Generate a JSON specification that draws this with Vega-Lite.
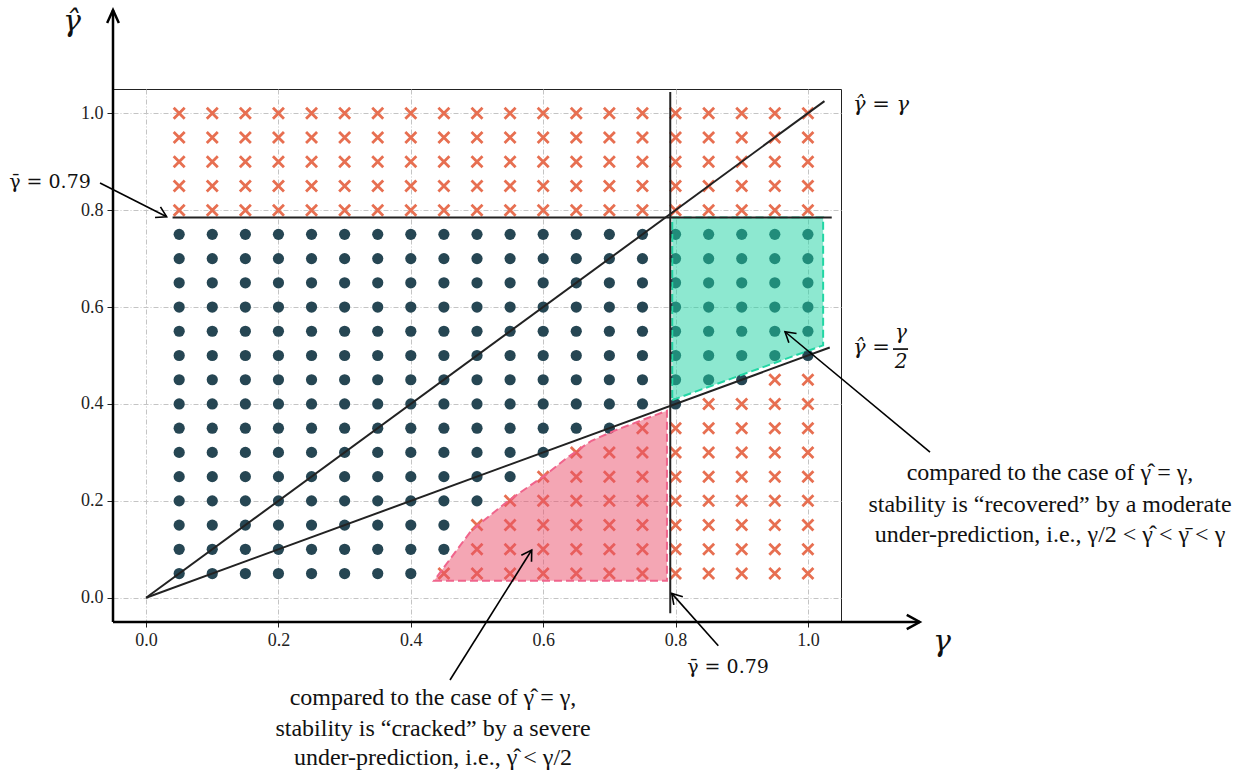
{
"$schema":"https://vega.github.io/schema/vega-lite/v6.json",
"width":728,"height":533,
"autosize":{"type":"none"},
"padding":{"left":113,"top":89,"right":415,"bottom":158},
"background":"white",
"config":{"view":{"stroke":"#222","strokeWidth":1},
"axis":{"labelFont":"Liberation Serif","labelFontSize":18,"labelColor":"#222","tickColor":"#222","tickSize":5,"tickWidth":1,"gridColor":"#c4c4c4","gridDash":[5,2,1,2],"gridWidth":1,"domain":false,"title":null}},
"datasets":{
"pts":[
{"x":0.05,"y":0.05,"t":"c"},{"x":0.05,"y":0.1,"t":"c"},{"x":0.05,"y":0.15,"t":"c"},{"x":0.05,"y":0.2,"t":"c"},{"x":0.05,"y":0.25,"t":"c"},{"x":0.05,"y":0.3,"t":"c"},{"x":0.05,"y":0.35,"t":"c"},{"x":0.05,"y":0.4,"t":"c"},{"x":0.05,"y":0.45,"t":"c"},{"x":0.05,"y":0.5,"t":"c"},{"x":0.05,"y":0.55,"t":"c"},{"x":0.05,"y":0.6,"t":"c"},{"x":0.05,"y":0.65,"t":"c"},{"x":0.05,"y":0.7,"t":"c"},{"x":0.05,"y":0.75,"t":"c"},{"x":0.05,"y":0.8,"t":"k"},{"x":0.05,"y":0.85,"t":"k"},{"x":0.05,"y":0.9,"t":"k"},{"x":0.05,"y":0.95,"t":"k"},{"x":0.05,"y":1,"t":"k"},
{"x":0.1,"y":0.05,"t":"c"},{"x":0.1,"y":0.1,"t":"c"},{"x":0.1,"y":0.15,"t":"c"},{"x":0.1,"y":0.2,"t":"c"},{"x":0.1,"y":0.25,"t":"c"},{"x":0.1,"y":0.3,"t":"c"},{"x":0.1,"y":0.35,"t":"c"},{"x":0.1,"y":0.4,"t":"c"},{"x":0.1,"y":0.45,"t":"c"},{"x":0.1,"y":0.5,"t":"c"},{"x":0.1,"y":0.55,"t":"c"},{"x":0.1,"y":0.6,"t":"c"},{"x":0.1,"y":0.65,"t":"c"},{"x":0.1,"y":0.7,"t":"c"},{"x":0.1,"y":0.75,"t":"c"},{"x":0.1,"y":0.8,"t":"k"},{"x":0.1,"y":0.85,"t":"k"},{"x":0.1,"y":0.9,"t":"k"},{"x":0.1,"y":0.95,"t":"k"},{"x":0.1,"y":1,"t":"k"},
{"x":0.15,"y":0.05,"t":"c"},{"x":0.15,"y":0.1,"t":"c"},{"x":0.15,"y":0.15,"t":"c"},{"x":0.15,"y":0.2,"t":"c"},{"x":0.15,"y":0.25,"t":"c"},{"x":0.15,"y":0.3,"t":"c"},{"x":0.15,"y":0.35,"t":"c"},{"x":0.15,"y":0.4,"t":"c"},{"x":0.15,"y":0.45,"t":"c"},{"x":0.15,"y":0.5,"t":"c"},{"x":0.15,"y":0.55,"t":"c"},{"x":0.15,"y":0.6,"t":"c"},{"x":0.15,"y":0.65,"t":"c"},{"x":0.15,"y":0.7,"t":"c"},{"x":0.15,"y":0.75,"t":"c"},{"x":0.15,"y":0.8,"t":"k"},{"x":0.15,"y":0.85,"t":"k"},{"x":0.15,"y":0.9,"t":"k"},{"x":0.15,"y":0.95,"t":"k"},{"x":0.15,"y":1,"t":"k"},
{"x":0.2,"y":0.05,"t":"c"},{"x":0.2,"y":0.1,"t":"c"},{"x":0.2,"y":0.15,"t":"c"},{"x":0.2,"y":0.2,"t":"c"},{"x":0.2,"y":0.25,"t":"c"},{"x":0.2,"y":0.3,"t":"c"},{"x":0.2,"y":0.35,"t":"c"},{"x":0.2,"y":0.4,"t":"c"},{"x":0.2,"y":0.45,"t":"c"},{"x":0.2,"y":0.5,"t":"c"},{"x":0.2,"y":0.55,"t":"c"},{"x":0.2,"y":0.6,"t":"c"},{"x":0.2,"y":0.65,"t":"c"},{"x":0.2,"y":0.7,"t":"c"},{"x":0.2,"y":0.75,"t":"c"},{"x":0.2,"y":0.8,"t":"k"},{"x":0.2,"y":0.85,"t":"k"},{"x":0.2,"y":0.9,"t":"k"},{"x":0.2,"y":0.95,"t":"k"},{"x":0.2,"y":1,"t":"k"},
{"x":0.25,"y":0.05,"t":"c"},{"x":0.25,"y":0.1,"t":"c"},{"x":0.25,"y":0.15,"t":"c"},{"x":0.25,"y":0.2,"t":"c"},{"x":0.25,"y":0.25,"t":"c"},{"x":0.25,"y":0.3,"t":"c"},{"x":0.25,"y":0.35,"t":"c"},{"x":0.25,"y":0.4,"t":"c"},{"x":0.25,"y":0.45,"t":"c"},{"x":0.25,"y":0.5,"t":"c"},{"x":0.25,"y":0.55,"t":"c"},{"x":0.25,"y":0.6,"t":"c"},{"x":0.25,"y":0.65,"t":"c"},{"x":0.25,"y":0.7,"t":"c"},{"x":0.25,"y":0.75,"t":"c"},{"x":0.25,"y":0.8,"t":"k"},{"x":0.25,"y":0.85,"t":"k"},{"x":0.25,"y":0.9,"t":"k"},{"x":0.25,"y":0.95,"t":"k"},{"x":0.25,"y":1,"t":"k"},
{"x":0.3,"y":0.05,"t":"c"},{"x":0.3,"y":0.1,"t":"c"},{"x":0.3,"y":0.15,"t":"c"},{"x":0.3,"y":0.2,"t":"c"},{"x":0.3,"y":0.25,"t":"c"},{"x":0.3,"y":0.3,"t":"c"},{"x":0.3,"y":0.35,"t":"c"},{"x":0.3,"y":0.4,"t":"c"},{"x":0.3,"y":0.45,"t":"c"},{"x":0.3,"y":0.5,"t":"c"},{"x":0.3,"y":0.55,"t":"c"},{"x":0.3,"y":0.6,"t":"c"},{"x":0.3,"y":0.65,"t":"c"},{"x":0.3,"y":0.7,"t":"c"},{"x":0.3,"y":0.75,"t":"c"},{"x":0.3,"y":0.8,"t":"k"},{"x":0.3,"y":0.85,"t":"k"},{"x":0.3,"y":0.9,"t":"k"},{"x":0.3,"y":0.95,"t":"k"},{"x":0.3,"y":1,"t":"k"},
{"x":0.35,"y":0.05,"t":"c"},{"x":0.35,"y":0.1,"t":"c"},{"x":0.35,"y":0.15,"t":"c"},{"x":0.35,"y":0.2,"t":"c"},{"x":0.35,"y":0.25,"t":"c"},{"x":0.35,"y":0.3,"t":"c"},{"x":0.35,"y":0.35,"t":"c"},{"x":0.35,"y":0.4,"t":"c"},{"x":0.35,"y":0.45,"t":"c"},{"x":0.35,"y":0.5,"t":"c"},{"x":0.35,"y":0.55,"t":"c"},{"x":0.35,"y":0.6,"t":"c"},{"x":0.35,"y":0.65,"t":"c"},{"x":0.35,"y":0.7,"t":"c"},{"x":0.35,"y":0.75,"t":"c"},{"x":0.35,"y":0.8,"t":"k"},{"x":0.35,"y":0.85,"t":"k"},{"x":0.35,"y":0.9,"t":"k"},{"x":0.35,"y":0.95,"t":"k"},{"x":0.35,"y":1,"t":"k"},
{"x":0.4,"y":0.05,"t":"c"},{"x":0.4,"y":0.1,"t":"c"},{"x":0.4,"y":0.15,"t":"c"},{"x":0.4,"y":0.2,"t":"c"},{"x":0.4,"y":0.25,"t":"c"},{"x":0.4,"y":0.3,"t":"c"},{"x":0.4,"y":0.35,"t":"c"},{"x":0.4,"y":0.4,"t":"c"},{"x":0.4,"y":0.45,"t":"c"},{"x":0.4,"y":0.5,"t":"c"},{"x":0.4,"y":0.55,"t":"c"},{"x":0.4,"y":0.6,"t":"c"},{"x":0.4,"y":0.65,"t":"c"},{"x":0.4,"y":0.7,"t":"c"},{"x":0.4,"y":0.75,"t":"c"},{"x":0.4,"y":0.8,"t":"k"},{"x":0.4,"y":0.85,"t":"k"},{"x":0.4,"y":0.9,"t":"k"},{"x":0.4,"y":0.95,"t":"k"},{"x":0.4,"y":1,"t":"k"},
{"x":0.45,"y":0.05,"t":"k"},{"x":0.45,"y":0.1,"t":"c"},{"x":0.45,"y":0.15,"t":"c"},{"x":0.45,"y":0.2,"t":"c"},{"x":0.45,"y":0.25,"t":"c"},{"x":0.45,"y":0.3,"t":"c"},{"x":0.45,"y":0.35,"t":"c"},{"x":0.45,"y":0.4,"t":"c"},{"x":0.45,"y":0.45,"t":"c"},{"x":0.45,"y":0.5,"t":"c"},{"x":0.45,"y":0.55,"t":"c"},{"x":0.45,"y":0.6,"t":"c"},{"x":0.45,"y":0.65,"t":"c"},{"x":0.45,"y":0.7,"t":"c"},{"x":0.45,"y":0.75,"t":"c"},{"x":0.45,"y":0.8,"t":"k"},{"x":0.45,"y":0.85,"t":"k"},{"x":0.45,"y":0.9,"t":"k"},{"x":0.45,"y":0.95,"t":"k"},{"x":0.45,"y":1,"t":"k"},
{"x":0.5,"y":0.05,"t":"k"},{"x":0.5,"y":0.1,"t":"k"},{"x":0.5,"y":0.15,"t":"k"},{"x":0.5,"y":0.2,"t":"c"},{"x":0.5,"y":0.25,"t":"c"},{"x":0.5,"y":0.3,"t":"c"},{"x":0.5,"y":0.35,"t":"c"},{"x":0.5,"y":0.4,"t":"c"},{"x":0.5,"y":0.45,"t":"c"},{"x":0.5,"y":0.5,"t":"c"},{"x":0.5,"y":0.55,"t":"c"},{"x":0.5,"y":0.6,"t":"c"},{"x":0.5,"y":0.65,"t":"c"},{"x":0.5,"y":0.7,"t":"c"},{"x":0.5,"y":0.75,"t":"c"},{"x":0.5,"y":0.8,"t":"k"},{"x":0.5,"y":0.85,"t":"k"},{"x":0.5,"y":0.9,"t":"k"},{"x":0.5,"y":0.95,"t":"k"},{"x":0.5,"y":1,"t":"k"},
{"x":0.55,"y":0.05,"t":"k"},{"x":0.55,"y":0.1,"t":"k"},{"x":0.55,"y":0.15,"t":"k"},{"x":0.55,"y":0.2,"t":"k"},{"x":0.55,"y":0.25,"t":"c"},{"x":0.55,"y":0.3,"t":"c"},{"x":0.55,"y":0.35,"t":"c"},{"x":0.55,"y":0.4,"t":"c"},{"x":0.55,"y":0.45,"t":"c"},{"x":0.55,"y":0.5,"t":"c"},{"x":0.55,"y":0.55,"t":"c"},{"x":0.55,"y":0.6,"t":"c"},{"x":0.55,"y":0.65,"t":"c"},{"x":0.55,"y":0.7,"t":"c"},{"x":0.55,"y":0.75,"t":"c"},{"x":0.55,"y":0.8,"t":"k"},{"x":0.55,"y":0.85,"t":"k"},{"x":0.55,"y":0.9,"t":"k"},{"x":0.55,"y":0.95,"t":"k"},{"x":0.55,"y":1,"t":"k"},
{"x":0.6,"y":0.05,"t":"k"},{"x":0.6,"y":0.1,"t":"k"},{"x":0.6,"y":0.15,"t":"k"},{"x":0.6,"y":0.2,"t":"k"},{"x":0.6,"y":0.25,"t":"k"},{"x":0.6,"y":0.3,"t":"c"},{"x":0.6,"y":0.35,"t":"c"},{"x":0.6,"y":0.4,"t":"c"},{"x":0.6,"y":0.45,"t":"c"},{"x":0.6,"y":0.5,"t":"c"},{"x":0.6,"y":0.55,"t":"c"},{"x":0.6,"y":0.6,"t":"c"},{"x":0.6,"y":0.65,"t":"c"},{"x":0.6,"y":0.7,"t":"c"},{"x":0.6,"y":0.75,"t":"c"},{"x":0.6,"y":0.8,"t":"k"},{"x":0.6,"y":0.85,"t":"k"},{"x":0.6,"y":0.9,"t":"k"},{"x":0.6,"y":0.95,"t":"k"},{"x":0.6,"y":1,"t":"k"},
{"x":0.65,"y":0.05,"t":"k"},{"x":0.65,"y":0.1,"t":"k"},{"x":0.65,"y":0.15,"t":"k"},{"x":0.65,"y":0.2,"t":"k"},{"x":0.65,"y":0.25,"t":"k"},{"x":0.65,"y":0.3,"t":"k"},{"x":0.65,"y":0.35,"t":"c"},{"x":0.65,"y":0.4,"t":"c"},{"x":0.65,"y":0.45,"t":"c"},{"x":0.65,"y":0.5,"t":"c"},{"x":0.65,"y":0.55,"t":"c"},{"x":0.65,"y":0.6,"t":"c"},{"x":0.65,"y":0.65,"t":"c"},{"x":0.65,"y":0.7,"t":"c"},{"x":0.65,"y":0.75,"t":"c"},{"x":0.65,"y":0.8,"t":"k"},{"x":0.65,"y":0.85,"t":"k"},{"x":0.65,"y":0.9,"t":"k"},{"x":0.65,"y":0.95,"t":"k"},{"x":0.65,"y":1,"t":"k"},
{"x":0.7,"y":0.05,"t":"k"},{"x":0.7,"y":0.1,"t":"k"},{"x":0.7,"y":0.15,"t":"k"},{"x":0.7,"y":0.2,"t":"k"},{"x":0.7,"y":0.25,"t":"k"},{"x":0.7,"y":0.3,"t":"k"},{"x":0.7,"y":0.35,"t":"c"},{"x":0.7,"y":0.4,"t":"c"},{"x":0.7,"y":0.45,"t":"c"},{"x":0.7,"y":0.5,"t":"c"},{"x":0.7,"y":0.55,"t":"c"},{"x":0.7,"y":0.6,"t":"c"},{"x":0.7,"y":0.65,"t":"c"},{"x":0.7,"y":0.7,"t":"c"},{"x":0.7,"y":0.75,"t":"c"},{"x":0.7,"y":0.8,"t":"k"},{"x":0.7,"y":0.85,"t":"k"},{"x":0.7,"y":0.9,"t":"k"},{"x":0.7,"y":0.95,"t":"k"},{"x":0.7,"y":1,"t":"k"},
{"x":0.75,"y":0.05,"t":"k"},{"x":0.75,"y":0.1,"t":"k"},{"x":0.75,"y":0.15,"t":"k"},{"x":0.75,"y":0.2,"t":"k"},{"x":0.75,"y":0.25,"t":"k"},{"x":0.75,"y":0.3,"t":"k"},{"x":0.75,"y":0.35,"t":"k"},{"x":0.75,"y":0.4,"t":"c"},{"x":0.75,"y":0.45,"t":"c"},{"x":0.75,"y":0.5,"t":"c"},{"x":0.75,"y":0.55,"t":"c"},{"x":0.75,"y":0.6,"t":"c"},{"x":0.75,"y":0.65,"t":"c"},{"x":0.75,"y":0.7,"t":"c"},{"x":0.75,"y":0.75,"t":"c"},{"x":0.75,"y":0.8,"t":"k"},{"x":0.75,"y":0.85,"t":"k"},{"x":0.75,"y":0.9,"t":"k"},{"x":0.75,"y":0.95,"t":"k"},{"x":0.75,"y":1,"t":"k"},
{"x":0.8,"y":0.05,"t":"k"},{"x":0.8,"y":0.1,"t":"k"},{"x":0.8,"y":0.15,"t":"k"},{"x":0.8,"y":0.2,"t":"k"},{"x":0.8,"y":0.25,"t":"k"},{"x":0.8,"y":0.3,"t":"k"},{"x":0.8,"y":0.35,"t":"k"},{"x":0.8,"y":0.4,"t":"c"},{"x":0.8,"y":0.45,"t":"c"},{"x":0.8,"y":0.5,"t":"c"},{"x":0.8,"y":0.55,"t":"c"},{"x":0.8,"y":0.6,"t":"c"},{"x":0.8,"y":0.65,"t":"c"},{"x":0.8,"y":0.7,"t":"c"},{"x":0.8,"y":0.75,"t":"c"},{"x":0.8,"y":0.8,"t":"k"},{"x":0.8,"y":0.85,"t":"k"},{"x":0.8,"y":0.9,"t":"k"},{"x":0.8,"y":0.95,"t":"k"},{"x":0.8,"y":1,"t":"k"},
{"x":0.85,"y":0.05,"t":"k"},{"x":0.85,"y":0.1,"t":"k"},{"x":0.85,"y":0.15,"t":"k"},{"x":0.85,"y":0.2,"t":"k"},{"x":0.85,"y":0.25,"t":"k"},{"x":0.85,"y":0.3,"t":"k"},{"x":0.85,"y":0.35,"t":"k"},{"x":0.85,"y":0.4,"t":"k"},{"x":0.85,"y":0.45,"t":"c"},{"x":0.85,"y":0.5,"t":"c"},{"x":0.85,"y":0.55,"t":"c"},{"x":0.85,"y":0.6,"t":"c"},{"x":0.85,"y":0.65,"t":"c"},{"x":0.85,"y":0.7,"t":"c"},{"x":0.85,"y":0.75,"t":"c"},{"x":0.85,"y":0.8,"t":"k"},{"x":0.85,"y":0.85,"t":"k"},{"x":0.85,"y":0.9,"t":"k"},{"x":0.85,"y":0.95,"t":"k"},{"x":0.85,"y":1,"t":"k"},
{"x":0.9,"y":0.05,"t":"k"},{"x":0.9,"y":0.1,"t":"k"},{"x":0.9,"y":0.15,"t":"k"},{"x":0.9,"y":0.2,"t":"k"},{"x":0.9,"y":0.25,"t":"k"},{"x":0.9,"y":0.3,"t":"k"},{"x":0.9,"y":0.35,"t":"k"},{"x":0.9,"y":0.4,"t":"k"},{"x":0.9,"y":0.45,"t":"c"},{"x":0.9,"y":0.5,"t":"c"},{"x":0.9,"y":0.55,"t":"c"},{"x":0.9,"y":0.6,"t":"c"},{"x":0.9,"y":0.65,"t":"c"},{"x":0.9,"y":0.7,"t":"c"},{"x":0.9,"y":0.75,"t":"c"},{"x":0.9,"y":0.8,"t":"k"},{"x":0.9,"y":0.85,"t":"k"},{"x":0.9,"y":0.9,"t":"k"},{"x":0.9,"y":0.95,"t":"k"},{"x":0.9,"y":1,"t":"k"},
{"x":0.95,"y":0.05,"t":"k"},{"x":0.95,"y":0.1,"t":"k"},{"x":0.95,"y":0.15,"t":"k"},{"x":0.95,"y":0.2,"t":"k"},{"x":0.95,"y":0.25,"t":"k"},{"x":0.95,"y":0.3,"t":"k"},{"x":0.95,"y":0.35,"t":"k"},{"x":0.95,"y":0.4,"t":"k"},{"x":0.95,"y":0.45,"t":"k"},{"x":0.95,"y":0.5,"t":"c"},{"x":0.95,"y":0.55,"t":"c"},{"x":0.95,"y":0.6,"t":"c"},{"x":0.95,"y":0.65,"t":"c"},{"x":0.95,"y":0.7,"t":"c"},{"x":0.95,"y":0.75,"t":"c"},{"x":0.95,"y":0.8,"t":"k"},{"x":0.95,"y":0.85,"t":"k"},{"x":0.95,"y":0.9,"t":"k"},{"x":0.95,"y":0.95,"t":"k"},{"x":0.95,"y":1,"t":"k"},
{"x":1,"y":0.05,"t":"k"},{"x":1,"y":0.1,"t":"k"},{"x":1,"y":0.15,"t":"k"},{"x":1,"y":0.2,"t":"k"},{"x":1,"y":0.25,"t":"k"},{"x":1,"y":0.3,"t":"k"},{"x":1,"y":0.35,"t":"k"},{"x":1,"y":0.4,"t":"k"},{"x":1,"y":0.45,"t":"k"},{"x":1,"y":0.5,"t":"c"},{"x":1,"y":0.55,"t":"c"},{"x":1,"y":0.6,"t":"c"},{"x":1,"y":0.65,"t":"c"},{"x":1,"y":0.7,"t":"c"},{"x":1,"y":0.75,"t":"c"},{"x":1,"y":0.8,"t":"k"},{"x":1,"y":0.85,"t":"k"},{"x":1,"y":0.9,"t":"k"},{"x":1,"y":0.95,"t":"k"},{"x":1,"y":1,"t":"k"}
],
"pink":[{"x":0.435,"y":0.035,"y2":0.035},{"x":0.491,"y":0.035,"y2":0.138},{"x":0.547,"y":0.035,"y2":0.2},{"x":0.602,"y":0.035,"y2":0.252},{"x":0.637,"y":0.035,"y2":0.29},{"x":0.673,"y":0.035,"y2":0.324},{"x":0.708,"y":0.035,"y2":0.345},{"x":0.754,"y":0.035,"y2":0.369},{"x":0.787,"y":0.035,"y2":0.386}],
"green":[{"x":0.795,"y":0.408,"y2":0.785},{"x":1.023,"y":0.521,"y2":0.785}],
"segs":[
{"x":0,"y":0,"x2":1.025,"y2":1.025,"k":"main"},
{"x":0,"y":0,"x2":1.033,"y2":0.5165,"k":"main"},
{"x":0.04,"y":0.785,"x2":1.036,"y2":0.785,"k":"main"},
{"x":0.792,"y":-0.032,"x2":0.792,"y2":1.044,"k":"main"},
{"x":-0.05,"y":-0.05,"x2":1.169,"y2":-0.05,"k":"axis"},
{"x":-0.05,"y":-0.05,"x2":-0.05,"y2":1.213,"k":"axis"},
{"x":-0.0696,"y":0.856,"x2":0.0311,"y2":0.7864,"k":"ann"},
{"x":0.8646,"y":-0.099,"x2":0.7942,"y2":0.0091,"k":"ann"},
{"x":1.1845,"y":0.3008,"x2":0.9654,"y2":0.549,"k":"ann"},
{"x":0.4592,"y":-0.1698,"x2":0.5827,"y2":0.0985,"k":"ann"},
{"x":1.1286,"y":0.5133,"x2":1.1513,"y2":0.5133,"k":"ann"}
],
"heads":[
{"x":1.169,"y":-0.05,"k":"ax0"},
{"x":-0.05,"y":1.213,"k":"ax270"},
{"x":0.0311,"y":0.7864,"k":"a1"},
{"x":0.7942,"y":0.0091,"k":"a2"},
{"x":0.9654,"y":0.549,"k":"a3"},
{"x":0.5827,"y":0.0985,"k":"a4"}
],
"texts":[
{"x":-0.1452,"y":0.858,"s":"γ̄ = 0.79","k":"val"},
{"x":0.8793,"y":-0.143,"s":"γ̄ = 0.79","k":"val"},
{"x":1.0682,"y":1.017,"s":"γ̂ = γ","k":"eq"},
{"x":1.0682,"y":0.5154,"s":"γ̂ =","k":"eq"},
{"x":1.1407,"y":0.5464,"s":"γ","k":"fr"},
{"x":1.1407,"y":0.4865,"s":"2","k":"fr"},
{"x":1.2027,"y":-0.0914,"s":"γ","k":"axt"},
{"x":-0.112,"y":1.188,"s":"γ̂","k":"axt"},
{"x":0.4335,"y":-0.207,"s":"compared to the case of γ̂ = γ,","k":"ann"},
{"x":0.4335,"y":-0.271,"s":"stability is “cracked” by a severe","k":"ann"},
{"x":0.4335,"y":-0.331,"s":"under-prediction, i.e., γ̂ < γ/2","k":"ann"},
{"x":1.3658,"y":0.2574,"s":"compared to the case of γ̂ = γ,","k":"ann"},
{"x":1.3658,"y":0.1914,"s":"stability is “recovered” by a moderate","k":"ann"},
{"x":1.3658,"y":0.1295,"s":"under-prediction, i.e., γ/2 < γ̂ < γ̄ < γ","k":"ann"}
]
},
"encoding":{
"x":{"field":"x","type":"quantitative","scale":{"domain":[-0.05,1.05],"nice":false,"zero":false},"axis":{"values":[0,0.2,0.4,0.6,0.8,1],"format":".1f","grid":true,"labelPadding":4}},
"y":{"field":"y","type":"quantitative","scale":{"domain":[-0.05,1.05],"nice":false,"zero":false},"axis":{"values":[0,0.2,0.4,0.6,0.8,1],"format":".1f","grid":true,"tickSize":6,"labelPadding":4}}
},
"layer":[
{"data":{"name":"pts"},"transform":[{"filter":"datum.t==='c'"}],"mark":{"type":"point","shape":"circle","filled":true,"size":125,"color":"#264653","opacity":1}},
{"data":{"name":"pts"},"transform":[{"filter":"datum.t==='k'"}],"mark":{"type":"point","shape":"M-1,-1L1,1M-1,1L1,-1","filled":false,"size":121,"stroke":"#e76f51","strokeWidth":2.8,"opacity":1}},
{"data":{"name":"green"},"mark":{"type":"area","fill":"#1bd1a1","fillOpacity":0.5,"stroke":"#22d6a4","strokeWidth":2,"strokeDash":[8,4]},"encoding":{"y2":{"field":"y2"}}},
{"data":{"name":"pink"},"mark":{"type":"area","fill":"#e94d69","fillOpacity":0.5,"stroke":"#f0648c","strokeWidth":2,"strokeDash":[8,4]},"encoding":{"y2":{"field":"y2"}}},
{"data":{"name":"segs"},"transform":[{"filter":"datum.k==='main'"}],"mark":{"type":"rule","color":"#222","strokeWidth":2},"encoding":{"x2":{"field":"x2"},"y2":{"field":"y2"}}},
{"data":{"name":"segs"},"transform":[{"filter":"datum.k==='axis'"}],"mark":{"type":"rule","color":"#000","strokeWidth":2.5},"encoding":{"x2":{"field":"x2"},"y2":{"field":"y2"}}},
{"data":{"name":"segs"},"transform":[{"filter":"datum.k==='ann'"}],"mark":{"type":"rule","color":"#000","strokeWidth":1.6},"encoding":{"x2":{"field":"x2"},"y2":{"field":"y2"}}},
{"data":{"name":"heads"},"transform":[{"filter":"datum.k==='ax0'"}],"mark":{"type":"point","shape":"M-1,-0.55L0,0L-1,0.55","filled":false,"size":676,"stroke":"#000","strokeWidth":2.5,"angle":0,"opacity":1}},
{"data":{"name":"heads"},"transform":[{"filter":"datum.k==='ax270'"}],"mark":{"type":"point","shape":"M-1,-0.45L0,0L-1,0.45","filled":false,"size":676,"stroke":"#000","strokeWidth":2.5,"angle":270,"opacity":1}},
{"data":{"name":"heads"},"transform":[{"filter":"datum.k==='a1'"}],"mark":{"type":"point","shape":"M-1,-0.6L0,0L-1,0.6","filled":false,"size":400,"stroke":"#000","strokeWidth":1.6,"angle":26.8,"opacity":1}},
{"data":{"name":"heads"},"transform":[{"filter":"datum.k==='a2'"}],"mark":{"type":"point","shape":"M-1,-0.6L0,0L-1,0.6","filled":false,"size":400,"stroke":"#000","strokeWidth":1.6,"angle":228.4,"opacity":1}},
{"data":{"name":"heads"},"transform":[{"filter":"datum.k==='a3'"}],"mark":{"type":"point","shape":"M-1,-0.6L0,0L-1,0.6","filled":false,"size":400,"stroke":"#000","strokeWidth":1.6,"angle":219.7,"opacity":1}},
{"data":{"name":"heads"},"transform":[{"filter":"datum.k==='a4'"}],"mark":{"type":"point","shape":"M-1,-0.6L0,0L-1,0.6","filled":false,"size":400,"stroke":"#000","strokeWidth":1.6,"angle":302.1,"opacity":1}},
{"data":{"name":"texts"},"transform":[{"filter":"datum.k==='ann'"}],"mark":{"type":"text","font":"Liberation Serif","fontSize":24,"align":"center","baseline":"middle","color":"#111"},"encoding":{"text":{"field":"s"}}},
{"data":{"name":"texts"},"transform":[{"filter":"datum.k==='val'"}],"mark":{"type":"text","font":"DejaVu Serif","fontSize":19,"align":"center","baseline":"middle","color":"#111"},"encoding":{"text":{"field":"s"}}},
{"data":{"name":"texts"},"transform":[{"filter":"datum.k==='eq'"}],"mark":{"type":"text","font":"DejaVu Serif","fontSize":21,"fontStyle":"italic","align":"left","baseline":"middle","color":"#111"},"encoding":{"text":{"field":"s"}}},
{"data":{"name":"texts"},"transform":[{"filter":"datum.k==='fr'"}],"mark":{"type":"text","font":"DejaVu Serif","fontSize":20,"fontStyle":"italic","align":"center","baseline":"middle","color":"#111"},"encoding":{"text":{"field":"s"}}},
{"data":{"name":"texts"},"transform":[{"filter":"datum.k==='axt'"}],"mark":{"type":"text","font":"DejaVu Serif","fontSize":30,"fontStyle":"italic","align":"center","baseline":"middle","color":"#111"},"encoding":{"text":{"field":"s"}}}
]
}
